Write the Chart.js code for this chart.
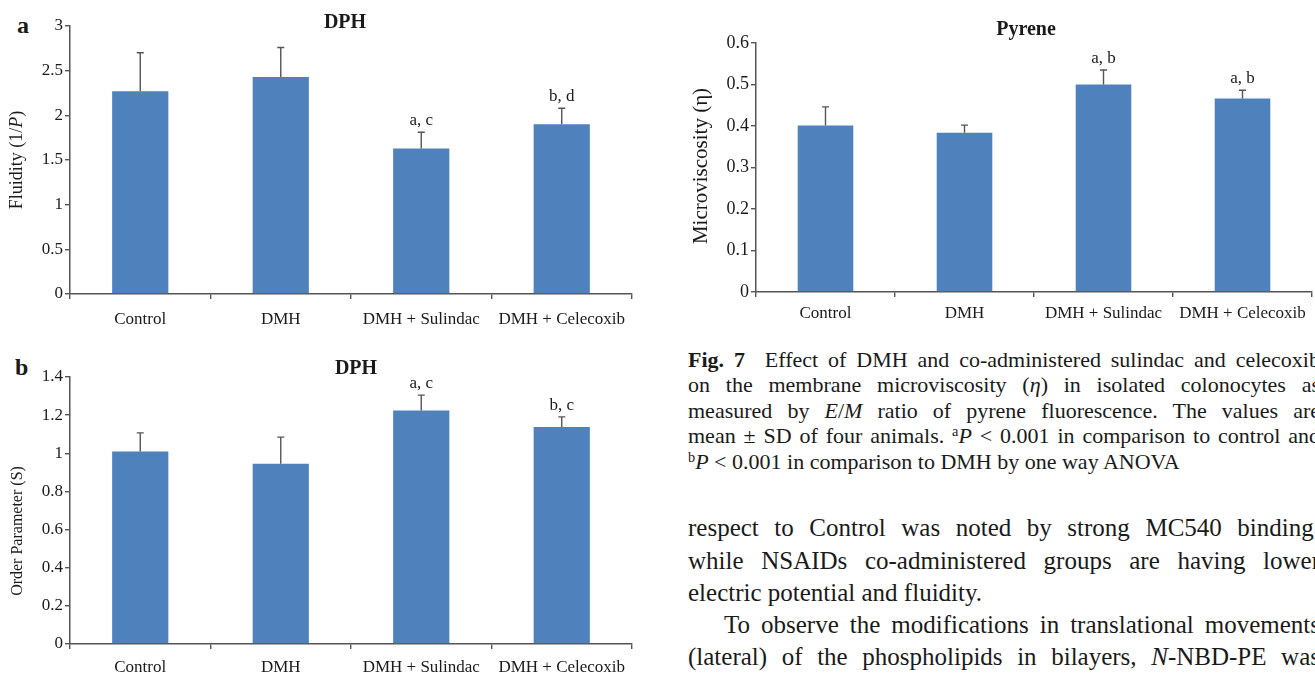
<!DOCTYPE html>
<html>
<head>
<meta charset="utf-8">
<script src="https://cdn.jsdelivr.net/npm/chart.js@4.4.0/dist/chart.umd.min.js"></script>
<style>
    body { margin: 0; width: 1315px; height: 674px; overflow: hidden; background: #fff; position: relative; font-family: "Liberation Serif", serif; color: #1a1a1a; }
    canvas { position: absolute; }
    .panel { position: absolute; font-weight: bold; font-size: 24px; line-height: 24px; }
    .ln { position: absolute; left: 688px; width: 632px; text-align: justify; text-align-last: justify; white-space: normal; }
    .cap { font-size: 22px; line-height: 26px; }
    .body { font-size: 25px; line-height: 32px; }
    .last { text-align: left; text-align-last: left; }
    sup { font-size: 0.65em; line-height: 0; vertical-align: 0.5em; }
</style>
</head>
<body>

<div class="panel" style="left:17px;top:13px;">a</div>
<div class="panel" style="left:15px;top:355px;">b</div>
<canvas id="chartA" width="650" height="340" style="left:0;top:0;"></canvas>
<canvas id="chartB" width="650" height="334" style="left:0;top:340px;"></canvas>
<canvas id="chartC" width="655" height="340" style="left:660px;top:0;"></canvas>

<div class="ln cap" style="top:347px;"><b>Fig. 7</b>&nbsp; Effect of DMH and co-administered sulindac and celecoxib</div>
<div class="ln cap" style="top:372px;">on the membrane microviscosity (<i>η</i>) in isolated colonocytes as</div>
<div class="ln cap" style="top:398px;">measured by <i>E</i>/<i>M</i> ratio of pyrene fluorescence. The values are</div>
<div class="ln cap" style="top:423px;">mean ± SD of four animals. <sup>a</sup><i>P</i> &lt; 0.001 in comparison to control and</div>
<div class="ln cap last" style="top:449px;"><sup>b</sup><i>P</i> &lt; 0.001 in comparison to DMH by one way ANOVA</div>

<div class="ln body" style="top:512px;">respect to Control was noted by strong MC540 binding,</div>
<div class="ln body" style="top:545px;">while NSAIDs co-administered groups are having lower</div>
<div class="ln body last" style="top:577px;">electric potential and fluidity.</div>
<div class="ln body" style="top:609px;">&emsp;&nbsp;To observe the modifications in translational movements</div>
<div class="ln body" style="top:641px;">(lateral) of the phospholipids in bilayers, <i>N</i>-NBD-PE was</div>

<script>
    // groups on the x axis
    const categories = ['Control', 'DMH', 'DMH + Sulindac', 'DMH + Celecoxib'];

    // a: DPH fluidity
    const fluidityMean = [2.27, 2.43, 1.63, 1.90];
    const fluiditySd = [0.43, 0.33, 0.18, 0.18];
    const fluiditySig = ['', '', 'a, c', 'b, d'];
    const fluidityTicks = [0, 0.5, 1, 1.5, 2, 2.5, 3];

    // b: DPH order parameter
    const orderMean = [1.01, 0.945, 1.225, 1.138];
    const orderSd = [0.097, 0.14, 0.08, 0.053];
    const orderSig = ['', '', 'a, c', 'b, c'];
    const orderTicks = [0, 0.2, 0.4, 0.6, 0.8, 1, 1.2, 1.4];

    // pyrene microviscosity
    const viscMean = [0.401, 0.384, 0.500, 0.466];
    const viscSd = [0.045, 0.018, 0.035, 0.020];
    const viscSig = ['', '', 'a, b', 'a, b'];
    const viscTicks = [0, 0.1, 0.2, 0.3, 0.4, 0.5, 0.6];

    const barColor = '#4f81bd';
    const axisColor = '#555555';
    const textColor = '#1a1a1a';
    const serif = "'Liberation Serif', 'Times New Roman', serif";

    // error bars (upper half only) + significance letters + heading + axis title
    const extras = {
        id: 'extras',
        afterDatasetsDraw(chart, args, opts) {
            const ctx = chart.ctx;
            const y = chart.scales.y;
            const meta = chart.getDatasetMeta(0);
            ctx.save();
            ctx.strokeStyle = axisColor;
            ctx.lineWidth = 1.4;
            ctx.fillStyle = textColor;
            ctx.font = '17px ' + serif;
            ctx.textAlign = 'center';
            ctx.textBaseline = 'alphabetic';
            meta.data.forEach((bar, i) => {
                const top = y.getPixelForValue(opts.mean[i] + opts.sd[i]);
                ctx.beginPath();
                ctx.moveTo(bar.x, bar.y);
                ctx.lineTo(bar.x, top);
                ctx.moveTo(bar.x - 3.5, top);
                ctx.lineTo(bar.x + 3.5, top);
                ctx.stroke();
                if (opts.sig[i]) {
                    ctx.fillText(opts.sig[i], bar.x, top - 7);
                }
            });

            // heading above the plot
            ctx.font = 'bold 20px ' + serif;
            ctx.textBaseline = 'middle';
            ctx.fillText(opts.heading.text, opts.heading.x, opts.heading.y);

            // rotated y title, built from plain / italic pieces
            const t = opts.yTitle;
            ctx.translate(t.x, t.y);
            ctx.rotate(-Math.PI / 2);
            const fonts = t.parts.map(p => (p.italic ? 'italic ' : '') + t.size + 'px ' + serif);
            let total = 0;
            t.parts.forEach((p, i) => { ctx.font = fonts[i]; total += ctx.measureText(p.text).width; });
            let cx = -total / 2;
            ctx.textAlign = 'left';
            t.parts.forEach((p, i) => {
                ctx.font = fonts[i];
                ctx.fillText(p.text, cx, 0);
                cx += ctx.measureText(p.text).width;
            });
            ctx.restore();
        }
    };

    function makeChart(id, cfg) {
        const ctx = document.getElementById(id).getContext('2d');
        return new Chart(ctx, {
            type: 'bar',
            data: {
                labels: categories,
                datasets: [{
                    data: cfg.mean,
                    backgroundColor: barColor,
                    borderWidth: 0,
                    barPercentage: 0.4,
                    categoryPercentage: 1
                }]
            },
            options: {
                responsive: false,
                animation: false,
                devicePixelRatio: 1,
                layout: { padding: { top: cfg.padTop, right: cfg.padRight, left: 0, bottom: 0 } },
                plugins: {
                    legend: { display: false },
                    tooltip: { enabled: false },
                    extras: {
                        mean: cfg.mean,
                        sd: cfg.sd,
                        sig: cfg.sig,
                        heading: cfg.heading,
                        yTitle: cfg.yTitle
                    }
                },
                scales: {
                    x: {
                        grid: { display: true, drawOnChartArea: false, drawTicks: true, tickLength: 5, color: axisColor, lineWidth: 1.4, offset: true },
                        border: { display: true, color: axisColor, width: 1.5 },
                        ticks: { color: textColor, font: { family: serif, size: 17 }, padding: cfg.xPad, maxRotation: 0, autoSkip: false },
                        afterFit: s => { s.height = cfg.xHeight; }
                    },
                    y: {
                        min: cfg.ticks[0],
                        max: cfg.ticks[cfg.ticks.length - 1],
                        afterBuildTicks: s => { s.ticks = cfg.ticks.map(v => ({ value: v })); },
                        grid: { display: true, drawOnChartArea: false, drawTicks: true, tickLength: 5, color: axisColor, lineWidth: 1.4 },
                        border: { display: true, color: axisColor, width: 1.5 },
                        ticks: {
                            color: textColor,
                            font: { family: serif, size: cfg.yFont },
                            padding: 2,
                            callback: v => String(+v.toFixed(2))
                        },
                        afterFit: s => { s.width = cfg.yWidth; }
                    }
                }
            },
            plugins: [extras]
        });
    }

    makeChart('chartA', {
        mean: fluidityMean, sd: fluiditySd, sig: fluiditySig, ticks: fluidityTicks,
        padTop: 26, padRight: 18, yWidth: 70, xHeight: 46, xPad: 10, yFont: 17,
        heading: { text: 'DPH', x: 345, y: 23 },
        yTitle: { x: 17, y: 160, size: 18, parts: [{ text: 'Fluidity (1/' }, { text: 'P', italic: true }, { text: ')' }] }
    });

    makeChart('chartB', {
        mean: orderMean, sd: orderSd, sig: orderSig, ticks: orderTicks,
        padTop: 37, padRight: 18, yWidth: 70, xHeight: 30, xPad: 8, yFont: 17,
        heading: { text: 'DPH', x: 356, y: 29 },
        yTitle: { x: 18, y: 191, size: 16, parts: [{ text: 'Order Parameter (S)' }] }
    });

    makeChart('chartC', {
        mean: viscMean, sd: viscSd, sig: viscSig, ticks: viscTicks,
        padTop: 43, padRight: 3, yWidth: 96, xHeight: 48, xPad: 6, yFont: 18,
        heading: { text: 'Pyrene', x: 366, y: 30 },
        yTitle: { x: 41, y: 166, size: 21, parts: [{ text: 'Microviscosity (η)' }] }
    });
</script>
</body>
</html>
